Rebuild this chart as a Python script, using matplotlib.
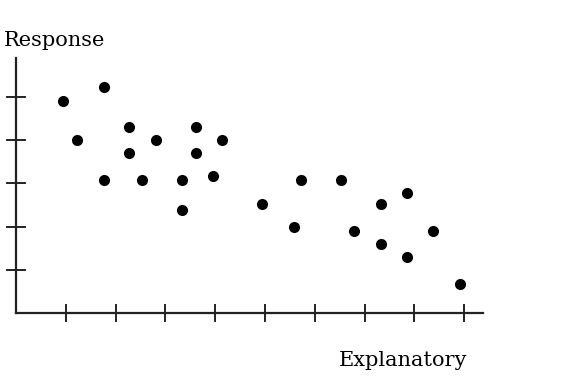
import matplotlib
matplotlib.use('Agg')
from matplotlib import pyplot as plt

explanatory = [0.95, 1.76, 1.22, 2.27, 2.81, 2.27, 3.61, 4.14, 3.61, 1.76, 2.54, 3.34, 3.95,
               3.34, 4.94, 5.73, 6.53, 5.58, 7.33, 7.86, 6.79, 7.33, 7.86, 8.38, 8.92]
response = [4.91, 5.22, 4.00, 4.30, 4.00, 3.70, 4.30, 4.00, 3.70, 3.08, 3.08, 3.08, 3.17,
            2.38, 2.52, 3.08, 3.08, 1.98, 2.52, 2.78, 1.90, 1.59, 1.29, 1.90, 0.66]
x_ticks = [1, 2, 3, 4, 5, 6, 7, 8, 9]
y_ticks = [1, 2, 3, 4, 5]

fig = plt.figure(figsize=(5.71, 3.77), dpi=100)
ax = fig.add_axes([0.028, 0.170, 0.818, 0.676])

ax.scatter(explanatory, response, s=64, color='black', marker='o', linewidths=0)

ax.set_xlim(0, 9.38)
ax.set_ylim(0, 5.9)
ax.set_xticks(x_ticks)
ax.set_yticks(y_ticks)
ax.set_xticklabels([])
ax.set_yticklabels([])
ax.tick_params(axis='x', direction='inout', length=13, width=1.4, color='#222222')
ax.tick_params(axis='y', direction='inout', length=15, width=1.4, color='#222222')
for s in ['top', 'right']:
    ax.spines[s].set_visible(False)
for s in ['left', 'bottom']:
    ax.spines[s].set_linewidth(1.6)
    ax.spines[s].set_color('#222222')

fig.text(4/571, 1 - 40/377, 'Response', fontsize=15, family='DejaVu Serif', va='center', ha='left')
fig.text(467/571, 1 - 361/377, 'Explanatory', fontsize=15, family='DejaVu Serif', va='center', ha='right')

fig.savefig('out.png', dpi=100)
